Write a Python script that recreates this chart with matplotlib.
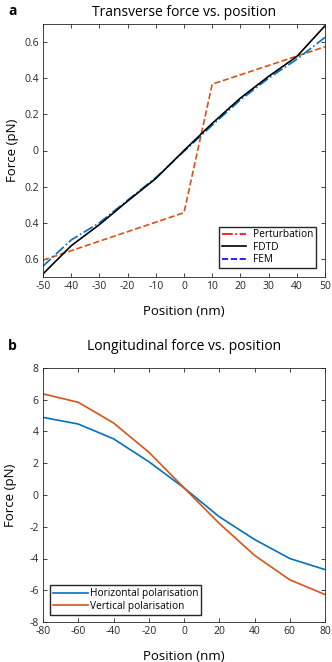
import matplotlib
matplotlib.use('Agg')
import matplotlib.pyplot as plt
from matplotlib.lines import Line2D

# panel a: transverse force
pos_a = [-50, -40, -30, -20, -10, 0, 10, 20, 30, 40, 50]
fdtd = [-0.683, -0.527, -0.41, -0.28, -0.155, 0.0, 0.15, 0.29, 0.41, 0.52, 0.69]
fem = [-0.64, -0.495, -0.40, -0.275, -0.15, -0.005, 0.14, 0.28, 0.40, 0.505, 0.626]
pert_x = [-50, 0, 10, 50]
pert_y = [-0.607, -0.344, 0.367, 0.574]
yticks_a = [-0.6, -0.4, -0.2, 0, 0.2, 0.4, 0.6]
ylabels_a = ['0.6', '0.4', '0.2', '0', '0.2', '0.4', '0.6']

# panel b: longitudinal force
pos_b = [-80, -60, -40, -20, 0, 20, 40, 60, 80]
horiz = [4.89, 4.47, 3.54, 2.1, 0.45, -1.37, -2.8, -4.0, -4.7]
vert = [6.37, 5.84, 4.54, 2.7, 0.45, -1.79, -3.8, -5.34, -6.27]

blue = (0.0, 0.447, 0.741)
orange = (0.85, 0.325, 0.098)
grey = (0.15, 0.15, 0.15)

plt.rcParams['font.family'] = ['Open Sans', 'DejaVu Sans']
plt.rcParams['axes.unicode_minus'] = False
plt.rcParams['xtick.direction'] = 'in'
plt.rcParams['ytick.direction'] = 'in'
plt.rcParams['xtick.top'] = True
plt.rcParams['ytick.right'] = True

fig = plt.figure(figsize=(3.32, 6.62), dpi=100)
ax1 = fig.add_axes([43 / 332, 1 - 277 / 662, 282 / 332, 253 / 662])
ax2 = fig.add_axes([43 / 332, 1 - 622 / 662, 282 / 332, 254 / 662])

ax1.plot(pert_x, pert_y, color=orange, linestyle='--', linewidth=1.2)
ax1.plot(pos_a, fem, color=blue, linestyle='-.', linewidth=1.2)
ax1.plot(pos_a, fdtd, color='black', linestyle='-', linewidth=1.2)
ax1.set_xlim(-50, 50)
ax1.set_ylim(-0.7, 0.7)
ax1.set_xticks(range(-50, 51, 10))
ax1.set_yticks(yticks_a)
ax1.set_yticklabels(ylabels_a)
ax1.set_title('Transverse force vs. position', fontsize=10, pad=6)
ax1.set_xlabel('Position (nm)', fontsize=9.5, labelpad=9)
ax1.set_ylabel('Force (pN)', fontsize=9.5, labelpad=4)
handles = [Line2D([], [], color='red', linestyle='-.', linewidth=1.2),
           Line2D([], [], color='black', linestyle='-', linewidth=1.2),
           Line2D([], [], color='blue', linestyle='--', linewidth=1.2)]
ax1.legend(handles, ['Perturbation', 'FDTD', 'FEM'], loc='lower right',
           fontsize=7.3, fancybox=False, edgecolor=grey, framealpha=1,
           borderaxespad=0.9, handlelength=2.4, labelspacing=0.15,
           borderpad=0.25, handletextpad=0.7)

ax2.plot(pos_b, horiz, color=blue, linewidth=1.2, label='Horizontal polarisation')
ax2.plot(pos_b, vert, color=orange, linewidth=1.2, label='Vertical polarisation')
ax2.set_xlim(-80, 80)
ax2.set_ylim(-8, 8)
ax2.set_xticks(range(-80, 81, 20))
ax2.set_yticks(range(-8, 9, 2))
ax2.set_title('Longitudinal force vs. position', fontsize=10, pad=13)
ax2.set_xlabel('Position (nm)', fontsize=9.5, labelpad=9)
ax2.set_ylabel('Force (pN)', fontsize=9.5, labelpad=9)
ax2.legend(loc='lower left', fontsize=7.3, fancybox=False, edgecolor=grey,
           framealpha=1, borderaxespad=0.7, handlelength=3.4,
           handletextpad=0.2, labelspacing=0.15, borderpad=0.3)

for ax in (ax1, ax2):
    for s in ax.spines.values():
        s.set_color(grey)
        s.set_linewidth(0.6)
    ax.tick_params(labelsize=7.5, colors=grey, length=3, width=0.6, pad=3)

fig.text(8 / 332, 1 - 11 / 662, 'a', fontsize=10, fontweight='bold', va='center')
fig.text(8 / 332, 1 - 346 / 662, 'b', fontsize=10, fontweight='bold', va='center')

fig.savefig('out.png', dpi=100)
